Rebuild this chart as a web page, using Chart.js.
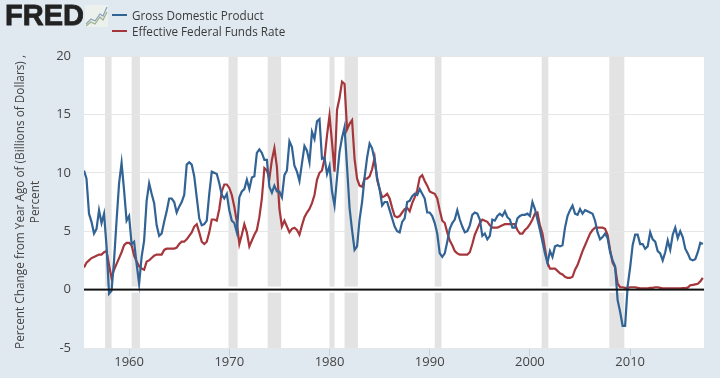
<!DOCTYPE html>
<html>
<head>
<meta charset="utf-8">
<script src="https://cdn.jsdelivr.net/npm/chart.js@4"></script>
<style>
    html, body { margin: 0; padding: 0; background: #e1e9f0; }
    #wrap { position: relative; width: 720px; height: 378px; overflow: hidden; font-family: "Open Sans", sans-serif; }
    #progress { position: absolute; left: 0; top: 0; }
    .logo { position: absolute; left: 5px; top: -1px; font: bold 29px "Liberation Sans", sans-serif; color: #222; -webkit-text-stroke: 0.8px #222; }
    .icon { position: absolute; left: 85px; top: 5px; }
    .swatch { position: absolute; left: 112px; width: 15px; height: 2px; }
    .key { position: absolute; left: 132px; font-size: 11.7px; line-height: 16px; color: #3a3a3a; white-space: nowrap; }
</style>
</head>
<body>
<div id="wrap">
    <canvas id="progress" width="720" height="378"></canvas>
    <div class="logo">FRED</div>
    <svg class="icon" width="23" height="22" viewBox="0 0 23 22">
        <rect width="23" height="22" fill="#edf1ee"/>
        <polyline points="1,19 6,14 10,16 15,9 18,11 22,2" fill="none" stroke="#8aa0b4" stroke-width="1.2"/>
        <polyline points="1,21 6,17 10,19 15,12 18,15 22,7" fill="none" stroke="#9cb08c" stroke-width="1.2"/>
    </svg>
    <div class="swatch" style="top: 14px; background: #316395;"></div>
    <div class="key" style="top: 7px;">Gross Domestic Product</div>
    <div class="swatch" style="top: 30px; background: #a5373c;"></div>
    <div class="key" style="top: 23px;">Effective Federal Funds Rate</div>
</div>
<script>
// quarterly, first point is 1955 Q3
const firstQuarter = 1955.5;
const xTickYears = [1960, 1970, 1980, 1990, 2000, 2010];
const recessionStart = [1957.6, 1960.25, 1969.92, 1973.83, 1980.0, 1981.5, 1990.5, 2001.17, 2007.92];
const recessionEnd = [1958.25, 1961.08, 1970.83, 1975.17, 1980.5, 1982.83, 1991.17, 2001.83, 2009.42];

const gdp = [
    10.2, 9.5, 6.5, 5.8, 4.8, 5.2, 6.8, 5.7, 6.5, 3.7,
    -0.35, -0.1, 2.5, 5.9, 9.1, 10.85, 8.5, 5.9, 6.3, 3.9,
    4.1, 2.2, 0.5, 2.8, 4.2, 7.6, 9.1, 8.2, 7.4, 5.5,
    4.6, 4.8, 5.8, 6.7, 7.8, 7.8, 7.5, 6.6, 7.1, 7.5,
    8.1, 10.7, 10.9, 10.7, 9.7, 7.9, 6.1, 5.5, 5.6, 5.9,
    8.2, 10.1, 10.0, 9.9, 9.1, 8.1, 7.8, 8.2, 6.8, 5.9,
    5.7, 4.9, 7.9, 8.4, 8.6, 9.4, 8.6, 9.6, 9.7, 11.7,
    12.0, 11.7, 11.1, 11.1, 8.8, 8.3, 8.9, 8.4, 8.4, 7.9,
    9.8, 10.2, 12.7, 12.2, 10.6, 10.1, 9.3, 10.8, 12.3, 11.9,
    10.9, 13.5, 12.9, 14.4, 14.6, 11.2, 11.3, 9.9, 10.6, 8.4,
    7.2, 9.6, 11.8, 13.0, 13.9, 10.5, 7.0, 5.1, 3.4, 3.7,
    6.0, 7.5, 9.6, 11.3, 12.5, 12.1, 11.1, 9.6, 8.6, 7.2,
    7.5, 7.5, 6.8, 6.1, 5.4, 5.0, 4.9, 5.8, 6.1, 7.5,
    7.6, 8.0, 8.2, 8.1, 8.6, 8.2, 7.8, 6.6, 6.6, 6.3,
    5.7, 4.8, 3.1, 2.8, 3.1, 4.1, 5.2, 5.7, 6.0, 6.8,
    6.0, 5.4, 4.9, 5.0, 5.5, 6.4, 6.6, 6.5, 6.0, 4.6,
    4.8, 4.3, 4.6, 6.0, 5.9, 6.3, 6.5, 6.3, 6.7, 6.2,
    6.0, 5.3, 5.3, 6.1, 6.3, 6.4, 6.4, 6.5, 6.3, 7.5,
    6.9, 6.0, 5.1, 4.1, 3.1, 2.3, 3.3, 2.8, 3.7, 3.8,
    3.7, 3.8, 5.3, 6.3, 6.8, 7.2, 6.5, 6.4, 6.9, 6.5,
    6.8, 6.7, 6.6, 6.5, 5.9, 4.9, 4.3, 4.5, 4.8, 4.4,
    3.2, 2.5, 2.0, -0.9, -1.9, -3.1, -3.1, 0.3, 1.9, 3.8,
    4.7, 4.7, 3.9, 3.9, 3.5, 3.7, 4.9, 4.3, 4.1, 3.3,
    3.1, 2.5, 3.2, 4.2, 3.4, 4.7, 5.3, 4.4, 5.0, 4.5,
    3.5, 3.1, 2.6, 2.5, 2.6, 3.2, 4.0, 3.9
];

const fedFunds = [
    1.9, 2.3, 2.5, 2.7, 2.8, 2.9, 3.0, 3.0, 3.2, 3.3,
    2.1, 1.0, 1.7, 2.2, 2.7, 3.2, 3.8, 4.0, 4.0, 3.8,
    2.9, 2.4, 2.0, 1.8, 1.7, 2.4, 2.5, 2.7, 2.9, 3.0,
    3.0, 3.0, 3.4, 3.5, 3.5, 3.5, 3.5, 3.6, 3.9, 4.1,
    4.1, 4.3, 4.6, 4.9, 5.4, 5.6, 4.9, 4.1, 3.9, 4.1,
    4.9, 6.0, 6.0, 5.9, 6.9, 8.4, 9.0, 9.0, 8.7, 8.1,
    7.1, 5.8, 3.9, 4.7, 5.6, 4.9, 3.7, 4.2, 4.7, 5.1,
    6.2, 7.8, 10.4, 10.2, 9.5, 11.1, 12.1, 10.5, 6.9, 5.4,
    5.9, 5.4, 4.9, 5.2, 5.3, 5.1, 4.7, 5.5, 6.2, 6.6,
    6.9, 7.4, 8.1, 9.4, 10.0, 10.2, 11.2, 13.2, 14.9, 12.6,
    10.1, 15.4, 16.4, 17.8, 17.6, 13.7, 14.2, 14.5, 11.2, 9.5,
    8.9, 8.8, 9.5, 9.5, 9.7, 10.3, 11.3, 9.4, 8.6, 7.9,
    8.0, 8.2, 7.8, 7.0, 6.3, 6.2, 6.3, 6.6, 6.9, 7.0,
    6.7, 7.4, 7.9, 8.5, 9.6, 9.8, 9.3, 8.9, 8.4, 8.3,
    8.2, 7.8, 6.8, 5.9, 5.7, 4.9, 4.2, 3.8, 3.3, 3.1,
    3.0, 3.0, 3.0, 3.0, 3.2, 3.9, 4.7, 5.2, 5.7, 6.0,
    5.9, 5.8, 5.5, 5.3, 5.3, 5.3, 5.4, 5.5, 5.6, 5.6,
    5.6, 5.6, 5.6, 5.1, 4.8, 4.8, 5.1, 5.3, 5.6, 6.0,
    6.5, 6.6, 5.5, 4.8, 3.5, 2.3, 1.8, 1.8, 1.8, 1.6,
    1.4, 1.3, 1.1, 1.0, 1.0, 1.1, 1.7, 2.1, 2.7, 3.3,
    3.8, 4.3, 4.8, 5.1, 5.3, 5.3, 5.3, 5.3, 5.2, 4.7,
    3.4, 2.3, 1.9, 0.5, 0.2, 0.2, 0.15, 0.15, 0.2, 0.2,
    0.2, 0.15, 0.1, 0.1, 0.1, 0.1, 0.15, 0.15, 0.2, 0.2,
    0.15, 0.1, 0.1, 0.1, 0.1, 0.1, 0.1, 0.1, 0.1, 0.12,
    0.13, 0.17, 0.37, 0.4, 0.45, 0.5, 0.7, 1.0
];

function toPoints(values) {
    return values.map((v, i) => ({ x: firstQuarter + i / 4, y: v }));
}

// white plot area and the grey recession bands go under the grid
const plotBackground = {
    id: 'plotBackground',
    beforeDraw(chart) {
        const { ctx, chartArea: area, scales } = chart;
        ctx.save();
        ctx.fillStyle = '#ffffff';
        ctx.fillRect(area.left, area.top, area.width, area.height);
        ctx.fillStyle = '#e3e3e3';
        recessionStart.forEach((start, i) => {
            const x0 = scales.x.getPixelForValue(start);
            const x1 = scales.x.getPixelForValue(recessionEnd[i]);
            ctx.fillRect(x0, area.top, x1 - x0, area.height);
        });
        ctx.restore();
    }
};

// zero line, has a white halo that cuts through the bands
const zeroLine = {
    id: 'zeroLine',
    beforeDatasetsDraw(chart) {
        const { ctx, chartArea: area, scales } = chart;
        const y = scales.y.getPixelForValue(0);
        ctx.save();
        ctx.fillStyle = '#ffffff';
        ctx.fillRect(area.left, y - 3, area.width, 6);
        ctx.restore();
    },
    afterDatasetsDraw(chart) {
        const { ctx, chartArea: area, scales } = chart;
        const y = scales.y.getPixelForValue(0);
        ctx.save();
        ctx.fillStyle = '#111111';
        ctx.fillRect(area.left, y - 1, area.width, 2);
        ctx.restore();
    }
};

new Chart(document.getElementById('progress').getContext('2d'), {
    type: 'line',
    data: {
        datasets: [
            { label: 'Gross Domestic Product', data: toPoints(gdp), borderColor: '#316395', borderWidth: 2.2, pointRadius: 0, tension: 0 },
            { label: 'Effective Federal Funds Rate', data: toPoints(fedFunds), borderColor: '#a5373c', borderWidth: 2.2, pointRadius: 0, tension: 0 }
        ]
    },
    plugins: [plotBackground, zeroLine],
    options: {
        responsive: false,
        animation: false,
        layout: { padding: { top: 56, right: 16, bottom: 0, left: 0 } },
        plugins: { legend: { display: false }, tooltip: { enabled: false } },
        scales: {
            x: {
                type: 'linear',
                min: firstQuarter,
                max: 2017.37,
                afterBuildTicks: axis => { axis.ticks = xTickYears.map(v => ({ value: v })); },
                afterFit: axis => { axis.height = 30; },
                border: { display: false },
                grid: { drawOnChartArea: false, tickColor: '#c3d0de', tickLength: 8 },
                ticks: {
                    autoSkip: false,
                    maxRotation: 0,
                    color: '#444444',
                    padding: -2,
                    font: { family: 'Open Sans', size: 13 },
                    callback: v => String(v)
                }
            },
            y: {
                min: -5,
                max: 20,
                afterFit: axis => { axis.width = 84; },
                border: { display: false },
                grid: { color: '#e6e6e6', drawTicks: false },
                ticks: {
                    stepSize: 5,
                    color: '#444444',
                    padding: 13,
                    font: { family: 'Open Sans', size: 13 }
                },
                title: {
                    display: true,
                    text: ['Percent Change from Year Ago of (Billions of Dollars) ,', 'Percent'],
                    color: '#444444',
                    font: { family: 'Open Sans', size: 11.8 },
                    padding: { top: 14, bottom: 0 }
                }
            }
        }
    }
});
</script>
</body>
</html>
